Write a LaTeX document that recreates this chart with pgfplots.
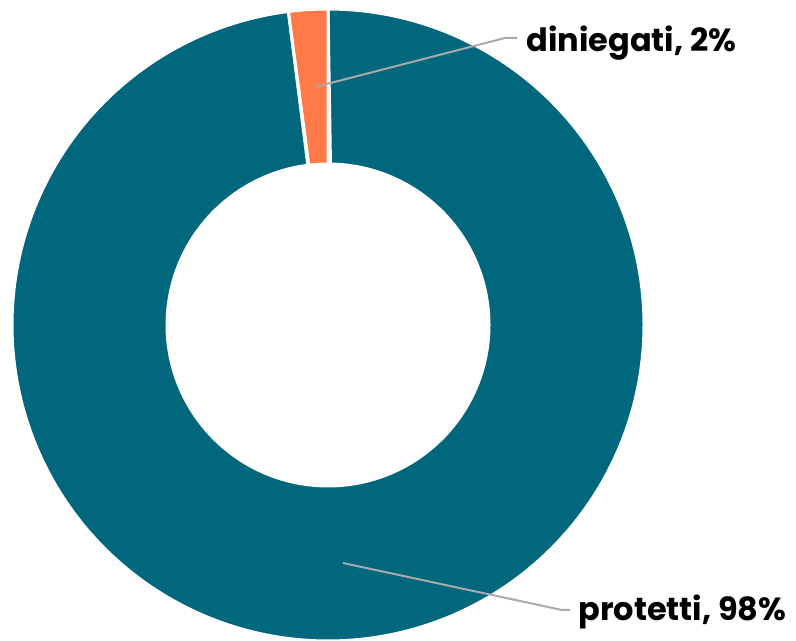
\documentclass[border=0pt]{standalone}
\usepackage{pgfplots}
\pgfplotsset{compat=1.18}
\usepackage{fontspec}
\setmainfont{Poppins}
\definecolor{tealc}{RGB}{0,103,125}
\definecolor{orangec}{RGB}{255,122,72}
\definecolor{leadc}{RGB}{170,170,170}
% values (percent)
\def\valDiniegati{2}
\def\valProtetti{98}
\begin{document}
\begin{tikzpicture}
\pgfmathsetmacro{\aA}{90}
\pgfmathsetmacro{\aB}{90+3.6*\valDiniegati}
\pgfmathsetmacro{\aC}{\aB+3.6*\valProtetti}
\def\cx{328}\def\cy{316}\def\Ro{316}\def\Ri{161}
\begin{axis}[x=0.5pt, y=0.5pt, xmin=0, xmax=796, ymin=0, ymax=641,
  hide axis, clip=false]
% protetti slice
\addplot[fill=tealc, draw=white, line width=1.5pt, domain=0:2, samples=801, variable=\t]
  ({\cx + ((\t<=1) ? \Ro : \Ri)*cos((\t<=1) ? (\aB+(\aC-\aB)*\t) : (\aC-(\aC-\aB)*(\t-1)))},
   {\cy + ((\t<=1) ? \Ro : \Ri)*sin((\t<=1) ? (\aB+(\aC-\aB)*\t) : (\aC-(\aC-\aB)*(\t-1)))}) -- cycle;
% diniegati slice
\addplot[fill=orangec, draw=white, line width=1.5pt, domain=0:2, samples=41, variable=\t]
  ({\cx + ((\t<=1) ? \Ro : \Ri)*cos((\t<=1) ? (\aA+(\aB-\aA)*\t) : (\aB-(\aB-\aA)*(\t-1)))},
   {\cy + ((\t<=1) ? \Ro : \Ri)*sin((\t<=1) ? (\aA+(\aB-\aA)*\t) : (\aB-(\aB-\aA)*(\t-1)))}) -- cycle;
% leader lines
\addplot[leadc, line width=1pt] coordinates {(315,554) (505,603) (517,603)};
\addplot[leadc, line width=1pt] coordinates {(343,78) (562,31) (570,31)};
\node[anchor=west, inner sep=0pt, font=\fontsize{16pt}{19pt}\selectfont\bfseries] at (axis cs:526,598) {diniegati, 2\%};
\node[anchor=west, inner sep=0pt, font=\fontsize{16pt}{19pt}\selectfont\bfseries] at (axis cs:578,29) {protetti, 98\%};
\end{axis}
\pgfresetboundingbox
\path (current axis.south west) rectangle (current axis.north east);
\end{tikzpicture}
\end{document}
